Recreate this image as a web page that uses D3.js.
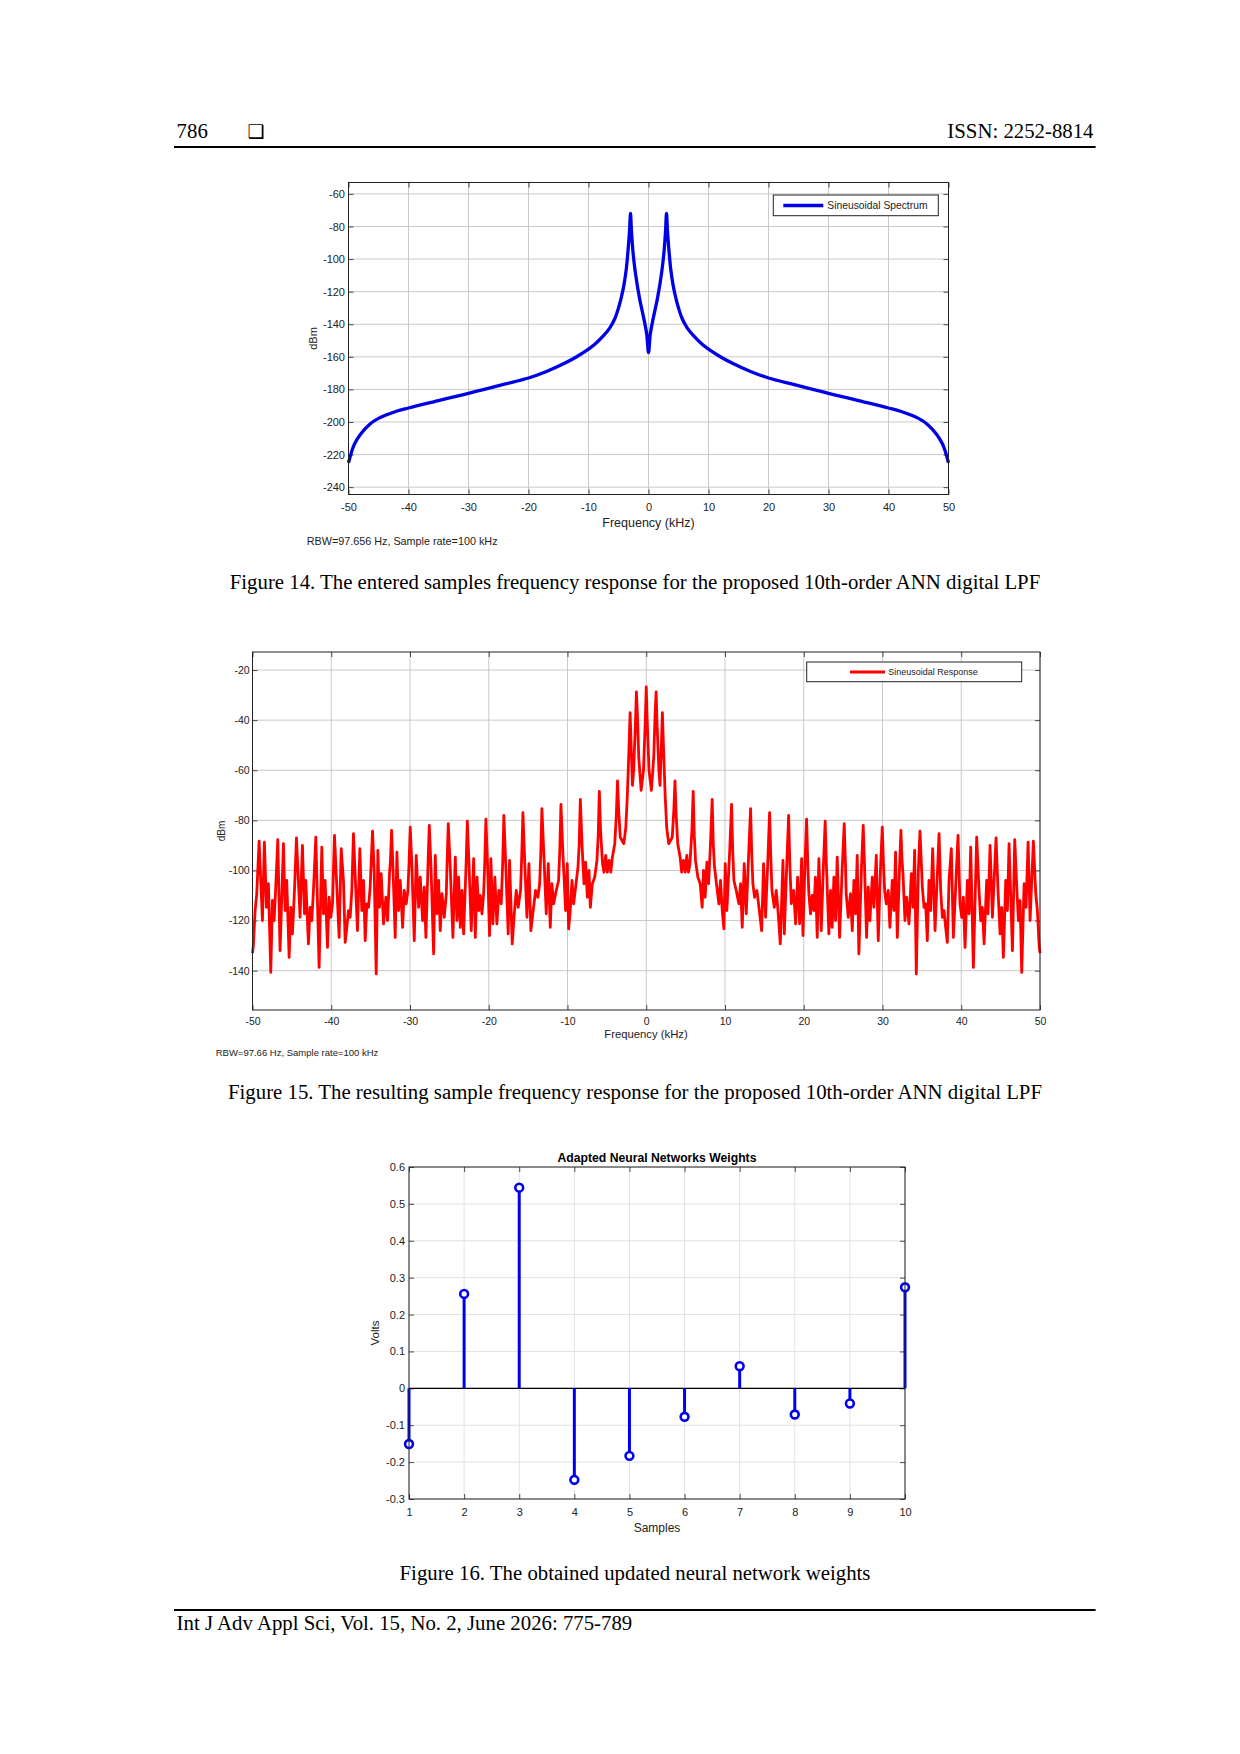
<!DOCTYPE html>
<html>
<head>
<meta charset="utf-8">
<script src="https://cdn.jsdelivr.net/npm/d3@7"></script>
<style>
  body { margin: 0; background: #fff; }
</style>
</head>
<body>
<div id="page"></div>
<script>
// ---------------- data ----------------

// Fig 14: input spectrum, positive side [kHz, dBm]; the spectrum is symmetric about 0
var specHalf = [
  [0, -157.4], [0.3, -146], [0.75, -137], [1.5, -124], [2.2, -108], [2.6, -95],
  [2.85, -82], [3.0, -72], [3.15, -82], [3.35, -92], [3.7, -106], [4.1, -116],
  [4.5, -123], [5.0, -130], [5.6, -136.5], [6.5, -142.5], [7.5, -147], [9.0, -152.5],
  [10, -155.3], [11.9, -159.8], [14, -164], [17, -169], [20, -173], [24, -176.8],
  [27.2, -179.8], [30, -182.4], [33, -185.1], [35, -186.9], [40, -191.4], [42, -193.4],
  [45, -197.8], [46.5, -201.5], [48, -207.5], [49, -213.5], [49.5, -218.5], [50, -225]
];

// Fig 15: filter output spectrum, positive side [kHz, dBm]
var respHalf = [
  [0, -26.7], [0.12, -40], [0.35, -60], [0.65, -68], [0.95, -55], [1.12, -38],
  [1.25, -28.7], [1.38, -42], [1.6, -60], [1.75, -66], [1.9, -52], [2.05, -37],
  [2.2, -52], [2.4, -70], [2.6, -83], [2.85, -89.3], [3.1, -88], [3.3, -86.7],
  [3.5, -76], [3.65, -64.3], [3.8, -78], [4.0, -89.3], [4.3, -94.7], [4.5, -100.7],
  [4.72, -96], [4.95, -100.7], [5.15, -94], [5.36, -100.7], [5.55, -97.3], [5.8, -84],
  [5.96, -68.4], [6.1, -86], [6.26, -96], [6.55, -102.7], [6.85, -105.3], [7.1, -114.7],
  [7.27, -100], [7.48, -110.7], [7.7, -96.7], [7.91, -105.3], [8.15, -90], [8.37, -71.6],
  [8.52, -90], [8.67, -98.7], [8.97, -106.7], [9.22, -113.3], [9.43, -104], [9.65, -116],
  [9.86, -123.3], [10.03, -97.3], [10.24, -116], [10.6, -92], [10.83, -73.6], [10.98, -92],
  [11.13, -104], [11.43, -108], [11.76, -113.3], [11.98, -105.3], [12.19, -122.7], [12.44, -97.3],
  [12.7, -117.3], [13.0, -94], [13.25, -75.3], [13.4, -94], [13.54, -105.3], [13.76, -110.7],
  [14.05, -108], [14.31, -114.7], [14.65, -124], [14.9, -97.3], [15.15, -118.7], [15.45, -95],
  [15.66, -76.9], [15.82, -95], [15.96, -108], [16.26, -114.7], [16.51, -108], [16.76, -117.3],
  [17.02, -129.3], [17.36, -96], [17.53, -125.3], [17.85, -97], [18.08, -78], [18.24, -98],
  [18.42, -113.3], [18.71, -108], [18.97, -121.3], [19.22, -102.7], [19.48, -121.3], [19.73, -95.3],
  [19.9, -126], [20.15, -98], [20.36, -79.5], [20.52, -98], [20.65, -109.3], [20.86, -117.3],
  [21.07, -110], [21.28, -116], [21.49, -102.7], [21.71, -126.7], [21.92, -95.3], [22.22, -124],
  [22.5, -98], [22.72, -80.3], [22.88, -98], [22.98, -106.7], [23.19, -125.3], [23.4, -108],
  [23.61, -122.7], [23.83, -102.7], [24.04, -120], [24.25, -94.7], [24.55, -126.7], [24.9, -98],
  [25.14, -81.3], [25.3, -98], [25.39, -109.3], [25.65, -118.7], [25.94, -109.3], [26.16, -124],
  [26.37, -104], [26.58, -117.3], [26.79, -94], [27.0, -133.3], [27.33, -99], [27.55, -82],
  [27.7, -96], [27.77, -104], [27.98, -126.7], [28.19, -106.7], [28.4, -120], [28.7, -102.7],
  [28.91, -114.7], [29.21, -94], [29.46, -128], [29.75, -99], [29.97, -82.7], [30.12, -97],
  [30.27, -108], [30.48, -113.3], [30.73, -108], [30.94, -122.7], [31.24, -104], [31.45, -116],
  [31.66, -92.7], [31.88, -126.7], [32.15, -100], [32.34, -84], [32.48, -96], [32.6, -101.3],
  [32.85, -120], [33.06, -110.7], [33.36, -121.3], [33.66, -101.3], [33.87, -114.7], [34.08, -92],
  [34.29, -141.3], [34.55, -100], [34.76, -84.3], [35.06, -106.7], [35.27, -114.7], [35.48, -113.3],
  [35.69, -128], [35.9, -104], [36.12, -116], [36.37, -91.3], [36.67, -124], [37.18, -85.3],
  [37.39, -108], [37.6, -118.7], [37.81, -116], [38.02, -122.7], [38.23, -128.7], [38.45, -104],
  [38.74, -91.3], [39.0, -126.7], [39.59, -86], [39.84, -113.3], [40.06, -118.7], [40.27, -110.7],
  [40.48, -130.7], [40.78, -104], [40.99, -117.3], [41.2, -90.7], [41.54, -138.7], [41.96, -86.7],
  [42.26, -108], [42.47, -120], [42.68, -114.7], [42.9, -129.3], [43.23, -104], [43.4, -117.3],
  [43.66, -90], [43.96, -118.7], [44.42, -87], [44.67, -108], [44.93, -125.3], [45.14, -114.7],
  [45.35, -134.7], [45.65, -104], [45.86, -116], [46.07, -89.3], [46.5, -132], [46.79, -87.7],
  [47.05, -106.7], [47.26, -120], [47.47, -112], [47.68, -140.7], [47.98, -105.3], [48.23, -114.7],
  [48.49, -88.7], [48.74, -120], [49.16, -88.3], [49.46, -109.3], [49.67, -116], [49.89, -130],
  [50, -133]
];

// Fig 16: adapted weights
var samples = [1, 2, 3, 4, 5, 6, 7, 8, 9, 10];
var weights = [-0.151, 0.256, 0.544, -0.248, -0.183, -0.077, 0.060, -0.071, -0.041, 0.274];

// tick values
var freqTicks = [-50, -40, -30, -20, -10, 0, 10, 20, 30, 40, 50];
var specTicks = [-240, -220, -200, -180, -160, -140, -120, -100, -80, -60];
var respTicks = [-140, -120, -100, -80, -60, -40, -20];
var weightTicks = [-0.3, -0.2, -0.1, 0, 0.1, 0.2, 0.3, 0.4, 0.5, 0.6];

// ---------------- page ----------------
var sans = "'Liberation Sans', Arial, Helvetica, sans-serif";
var serif = "'Liberation Serif', 'Times New Roman', serif";
var ink = "#222";

var svg = d3.select("#page").append("svg")
    .attr("width", 1240)
    .attr("height", 1754);

svg.append("rect").attr("width", 1240).attr("height", 1754).attr("fill", "#fff");

// mirror the positive side onto negative frequencies
function mirror(half) {
  return half.slice(1).map(function(d) { return [-d[0], d[1]]; }).reverse().concat(half);
}

// grid, inward ticks on all four sides
function frame(x, y, o) {
  var g = svg.append("g");
  var x0 = x.range()[0], x1 = x.range()[1], y0 = y.range()[0], y1 = y.range()[1];

  g.append("g").selectAll("line").data(o.xTicks).join("line")
      .attr("x1", function(d) { return x(d); }).attr("x2", function(d) { return x(d); })
      .attr("y1", y0).attr("y2", y1)
      .attr("stroke", o.grid).attr("stroke-width", o.gridWidth);
  g.append("g").selectAll("line").data(o.yTicks).join("line")
      .attr("y1", function(d) { return y(d); }).attr("y2", function(d) { return y(d); })
      .attr("x1", x0).attr("x2", x1)
      .attr("stroke", o.grid).attr("stroke-width", o.gridWidth);

  var axes = [
    [d3.axisLeft(y).tickValues(o.yTicks).tickFormat(o.yFmt).tickPadding(o.yPad), "translate(" + x0 + ",0)"],
    [d3.axisRight(y).tickValues(o.yTicks).tickFormat(""), "translate(" + x1 + ",0)"],
    [d3.axisBottom(x).tickValues(o.xTicks).tickFormat(o.xFmt).tickPadding(o.xPad), "translate(0," + y0 + ")"],
    [d3.axisTop(x).tickValues(o.xTicks).tickFormat(""), "translate(0," + y1 + ")"]
  ];
  axes.forEach(function(a) {
    var ax = g.append("g").attr("transform", a[1]).call(a[0].tickSize(-5));
    ax.select(".domain").remove();
    ax.selectAll("line").attr("stroke", ink).attr("stroke-width", 0.8);
    ax.selectAll("text").attr("font-family", sans).attr("font-size", o.font).attr("fill", ink);
  });
  return g;
}

function boxOutline(x, y) {
  svg.append("rect")
      .attr("x", x.range()[0]).attr("y", y.range()[1])
      .attr("width", x.range()[1] - x.range()[0])
      .attr("height", y.range()[0] - y.range()[1])
      .attr("fill", "none").attr("stroke", ink).attr("stroke-width", 1);
}

function label(txt, px, py, size, opts) {
  opts = opts || {};
  var t = svg.append("text").text(txt)
      .attr("x", px).attr("y", py)
      .attr("font-family", opts.family || sans)
      .attr("font-size", size)
      .attr("font-weight", opts.weight || "normal")
      .attr("text-anchor", opts.anchor || "start")
      .attr("fill", opts.fill || ink);
  if (opts.rotate) t.attr("transform", "rotate(-90," + px + "," + py + ")");
  return t;
}

var intFmt = function(d) { return String(d); };

// ---- header & footer ----
label("786", 176.6, 138, 20.8, {family: serif, fill: "#000"});
label("\u2751", 247.5, 138, 19, {family: "'DejaVu Sans', sans-serif", fill: "#000"});
label("ISSN: 2252-8814", 1093.5, 138, 20.8, {family: serif, anchor: "end", fill: "#000"});
svg.append("line").attr("x1", 174).attr("x2", 1095.6).attr("y1", 147).attr("y2", 147)
    .attr("stroke", "#000").attr("stroke-width", 2);
svg.append("line").attr("x1", 174).attr("x2", 1095.6).attr("y1", 1610).attr("y2", 1610)
    .attr("stroke", "#000").attr("stroke-width", 2);
label("Int J Adv Appl Sci, Vol. 15, No. 2, June 2026: 775-789", 176.6, 1630, 20.8, {family: serif, fill: "#000"});

// ---- Figure 14 ----
var x14 = d3.scaleLinear().domain([-50, 50]).range([348.5, 948.5]);
var y14 = d3.scaleLinear().domain([-244.5, -53]).range([494.5, 182.5]);
frame(x14, y14, {xTicks: freqTicks, yTicks: specTicks, xFmt: intFmt, yFmt: intFmt,
                 xPad: 8.2, yPad: 3.5, font: 11, grid: "#bdbdbd", gridWidth: 0.8});

svg.append("path")
    .datum(mirror(specHalf))
    .attr("fill", "none")
    .attr("stroke", "#0000e6")
    .attr("stroke-width", 3.3)
    .attr("stroke-linejoin", "round")
    .attr("d", d3.line()
        .curve(d3.curveCatmullRom.alpha(0.5))
        .x(function(d) { return x14(d[0]); })
        .y(function(d) { return y14(d[1]); }));
boxOutline(x14, y14);

svg.append("rect").attr("x", 773.3).attr("y", 195).attr("width", 165).attr("height", 20.7)
    .attr("fill", "#fff").attr("stroke", ink).attr("stroke-width", 1);
svg.append("line").attr("x1", 783.3).attr("x2", 823.3).attr("y1", 205.5).attr("y2", 205.5)
    .attr("stroke", "#0000e6").attr("stroke-width", 3.3);
label("Sineusoidal Spectrum", 827.3, 209.2, 10.3);

label("Frequency (kHz)", 648.5, 527, 12.5, {anchor: "middle"});
label("dBm", 317, 338.5, 11, {anchor: "middle", rotate: true});
label("RBW=97.656 Hz, Sample rate=100 kHz", 306.7, 544.6, 10.8);
label("Figure 14. The entered samples frequency response for the proposed 10th-order ANN digital LPF",
      635, 589, 20.8, {family: serif, anchor: "middle", fill: "#000"});

// ---- Figure 15 ----
var x15 = d3.scaleLinear().domain([-50, 50]).range([252.5, 1040]);
var y15 = d3.scaleLinear().domain([-155.7, -12.8]).range([1010, 652]);
frame(x15, y15, {xTicks: freqTicks, yTicks: respTicks, xFmt: intFmt, yFmt: intFmt,
                 xPad: 7.2, yPad: 2.8, font: 10.5, grid: "#bdbdbd", gridWidth: 0.8});

svg.append("path")
    .datum(mirror(respHalf))
    .attr("fill", "none")
    .attr("stroke", "#ff0000")
    .attr("stroke-width", 2.8)
    .attr("stroke-linejoin", "round")
    .attr("d", d3.line()
        .x(function(d) { return x15(d[0]); })
        .y(function(d) { return y15(d[1]); }));
boxOutline(x15, y15);

svg.append("rect").attr("x", 806.7).attr("y", 662).attr("width", 215).attr("height", 19.7)
    .attr("fill", "#fff").attr("stroke", ink).attr("stroke-width", 1);
svg.append("line").attr("x1", 850).attr("x2", 885).attr("y1", 672).attr("y2", 672)
    .attr("stroke", "#ff0000").attr("stroke-width", 2.8);
label("Sineusoidal Response", 888.3, 675.2, 9);

label("Frequency (kHz)", 646, 1038, 11.3, {anchor: "middle"});
label("dBm", 224.6, 831, 10, {anchor: "middle", rotate: true});
label("RBW=97.66 Hz, Sample rate=100 kHz", 215.7, 1056, 9.5);
label("Figure 15. The resulting sample frequency response for the proposed 10th-order ANN digital LPF",
      635, 1099, 20.8, {family: serif, anchor: "middle", fill: "#000"});

// ---- Figure 16 ----
var x16 = d3.scaleLinear().domain([1, 10]).range([409, 905]);
var y16 = d3.scaleLinear().domain([-0.3, 0.6]).range([1499, 1167]);
frame(x16, y16, {xTicks: samples, yTicks: weightTicks, xFmt: intFmt,
                 yFmt: function(d) { return d === 0 ? "0" : d.toFixed(1); },
                 xPad: 9.5, yPad: 4, font: 11, grid: "#e2e2e2", gridWidth: 1});

svg.append("line")
    .attr("x1", x16(1)).attr("x2", x16(10))
    .attr("y1", y16(0)).attr("y2", y16(0))
    .attr("stroke", "#000").attr("stroke-width", 1.1);

var stems = svg.append("g");
stems.selectAll("line").data(samples).join("line")
    .attr("x1", function(d) { return x16(d); })
    .attr("x2", function(d) { return x16(d); })
    .attr("y1", y16(0))
    .attr("y2", function(d, i) { return y16(weights[i]); })
    .attr("stroke", "#0000f0").attr("stroke-width", 3);
stems.selectAll("circle").data(samples).join("circle")
    .attr("cx", function(d) { return x16(d); })
    .attr("cy", function(d, i) { return y16(weights[i]); })
    .attr("r", 3.9)
    .attr("fill", "#fff").attr("stroke", "#0000f0").attr("stroke-width", 2.6);
boxOutline(x16, y16);

label("Adapted Neural Networks Weights", 657, 1161.8, 12.2, {anchor: "middle", weight: "bold", fill: "#000"});
label("Samples", 657, 1532, 12, {anchor: "middle"});
label("Volts", 378.6, 1333, 11.5, {anchor: "middle", rotate: true});
label("Figure 16. The obtained updated neural network weights",
      635, 1579.7, 20.8, {family: serif, anchor: "middle", fill: "#000"});
</script>
</body>
</html>
